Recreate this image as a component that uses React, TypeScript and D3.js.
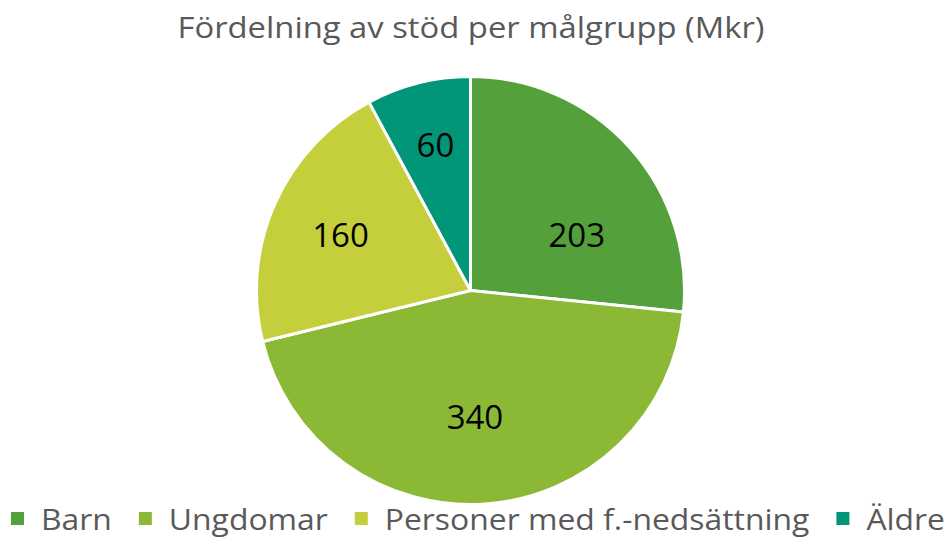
import * as d3 from "d3";
import React, { useEffect, useRef } from "react";

const categories = ["Barn", "Ungdomar", "Personer med f.-nedsättning", "Äldre"];
const values = [203, 340, 160, 60];
const colors = ["#54a03b", "#8cb935", "#c4cf3b", "#009677"];
const title = "Fördelning av stöd per målgrupp (Mkr)";

// label placement, Excel "best fit": radius as share of pie radius, angle nudge in degrees
const labelRadius = [0.56, 0.59, 0.66, 0.7];
const labelNudge = [14.6, 2, -1, 0.6];

const width = 949;
const height = 539;
const font = "'Open Sans', sans-serif";

const App = () => {
  const ref = useRef<HTMLDivElement>(null);

  useEffect(() => {
    const svg = d3.create("svg")
      .attr("width", width)
      .attr("height", height)
      .style("display", "block")
      .style("background", "#fff");

    // title
    svg.append("text")
      .attr("x", 471)
      .attr("y", 38)
      .attr("text-anchor", "middle")
      .attr("fill", "#595959")
      .style("font-family", font)
      .style("font-size", "30px")
      .attr("textLength", 587)
      .attr("lengthAdjust", "spacingAndGlyphs")
      .text(title);

    const cx = 470.5, cy = 290.5, r = 214;
    const pie = d3.pie<number>().sort(null).value(d => d);
    const arcs = pie(values);
    const arc = d3.arc<d3.PieArcDatum<number>>().innerRadius(0).outerRadius(r);

    const g = svg.append("g").attr("transform", `translate(${cx},${cy})`);
    g.selectAll("path")
      .data(arcs)
      .join("path")
      .attr("d", arc)
      .attr("fill", (d, i) => colors[i])
      .attr("stroke", "#fff")
      .attr("stroke-width", 3)
      .attr("stroke-linejoin", "round");

    const labelPos = (d: d3.PieArcDatum<number>, i: number) => {
      const a = (d.startAngle + d.endAngle) / 2 + (labelNudge[i] * Math.PI) / 180;
      const rr = r * labelRadius[i];
      return [Math.sin(a) * rr, -Math.cos(a) * rr];
    };

    g.selectAll("text.lbl")
      .data(arcs)
      .join("text")
      .attr("class", "lbl")
      .attr("transform", (d, i) => `translate(${labelPos(d, i)})`)
      .attr("text-anchor", "middle")
      .attr("dy", "0.36em")
      .attr("fill", "#000")
      .style("font-family", font)
      .style("font-size", "33px")
      .text(d => d.data);

    // legend
    const legend = svg.append("g");
    const items = legend.selectAll("g")
      .data(categories)
      .join("g");
    items.append("rect")
      .attr("width", 13)
      .attr("height", 13)
      .attr("y", 512)
      .attr("fill", (d, i) => colors[i]);
    const texts = items.append("text")
      .attr("y", 530)
      .attr("fill", "#595959")
      .style("font-family", font)
      .style("font-size", "30px")
      .text(d => d);

    if (ref.current) {
      ref.current.innerHTML = "";
      ref.current.appendChild(svg.node()!);
    }

    // lay out legend items after measuring text; squeeze text to fill the row like the original
    const sq = 13, sqGap = 17, gap = 27, left = 11, right = 945;
    const widths: number[] = [];
    texts.each(function () {
      widths.push((this as SVGTextElement).getComputedTextLength());
    });
    const fixed = categories.length * (sq + sqGap) + (categories.length - 1) * gap;
    const k = (right - left - fixed) / d3.sum(widths);
    let x = left;
    const offsets: number[] = [];
    widths.forEach(w => {
      offsets.push(x);
      x += sq + sqGap + w * k + gap;
    });
    items.attr("transform", (d, i) => `translate(${offsets[i]},0)`);
    texts.attr("transform", `translate(${sq + sqGap},530) scale(${k},1) translate(0,-530)`);
  }, []);

  return <div ref={ref} style={{ position: "fixed", left: 0, top: 0 }}></div>;
};

export default App;
